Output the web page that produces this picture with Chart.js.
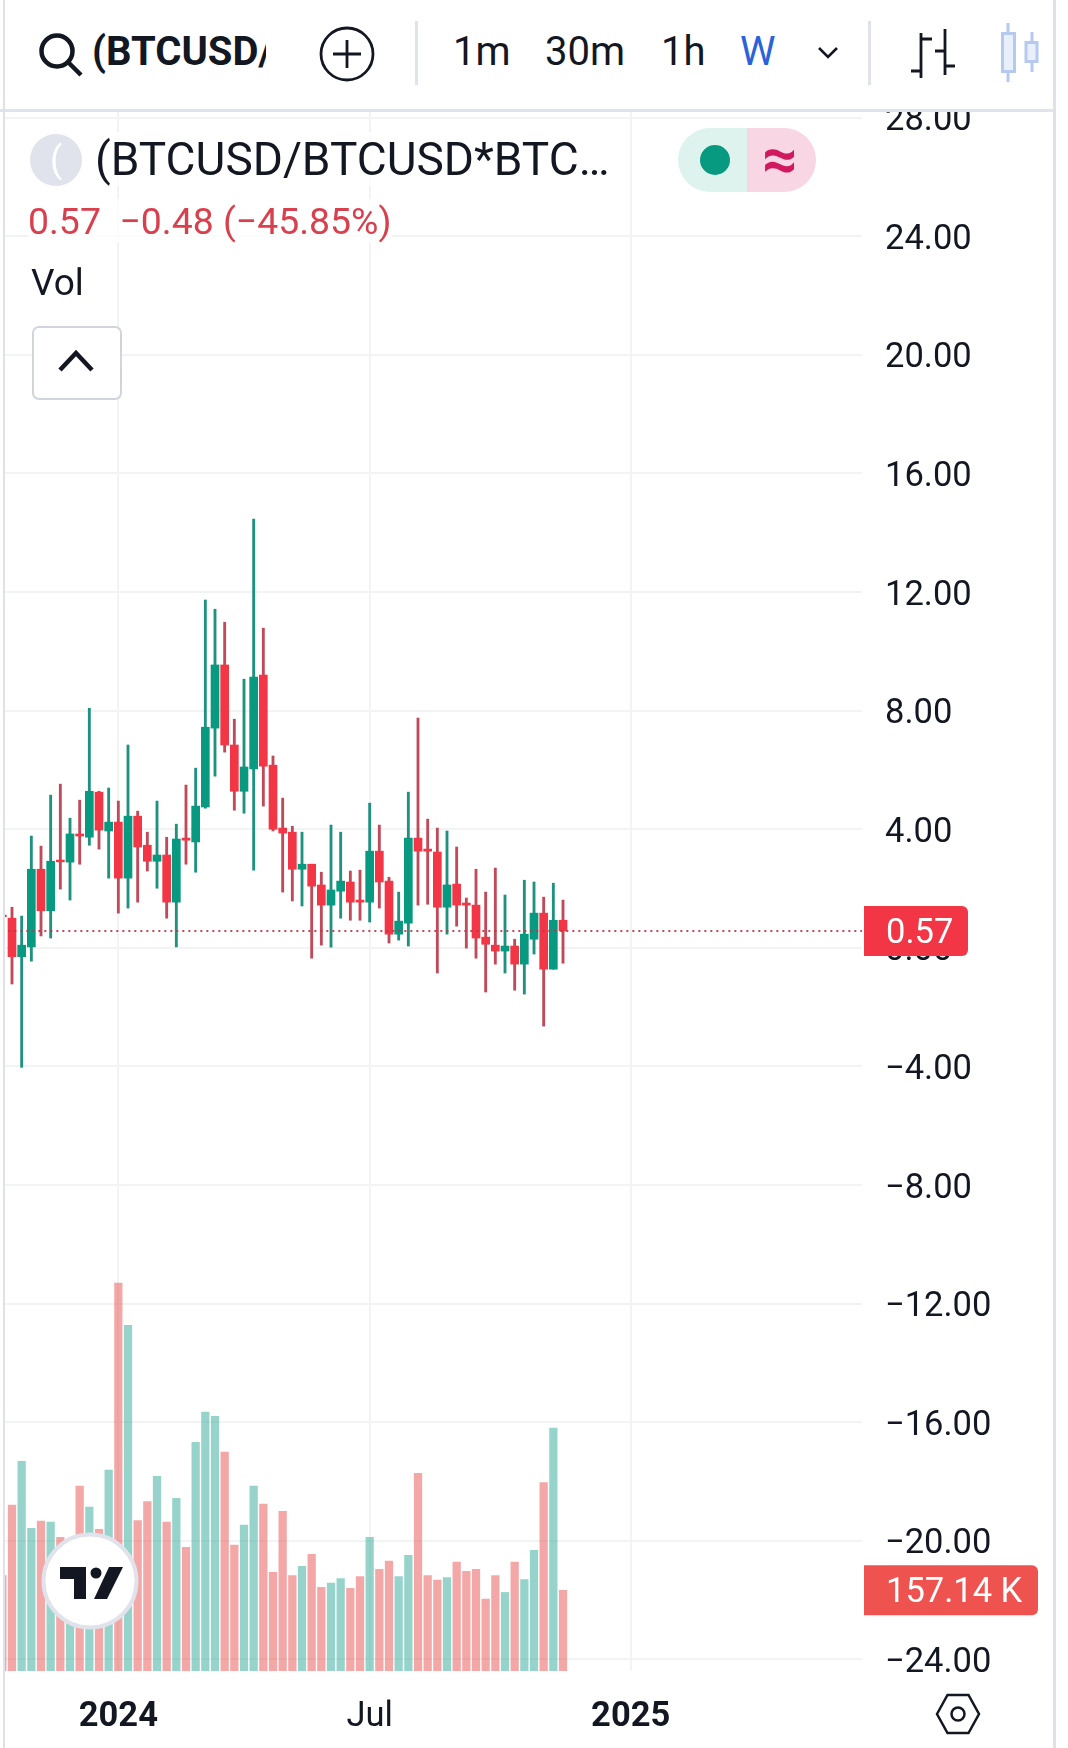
<!DOCTYPE html>
<html lang="en">
<head>
<meta charset="UTF-8">
<title>(BTCUSD/BTCUSD*BTC...</title>
<script src="https://cdn.jsdelivr.net/npm/chart.js"></script>
<style>
    html, body { margin: 0; padding: 0; background: #fff; }
    body { width: 1068px; height: 1748px; position: relative; overflow: hidden; font-family: Roboto, sans-serif; color: #131722; }
    canvas { position: absolute; left: 0; top: 0; }
    .abs { position: absolute; white-space: nowrap; }
    #header { position: absolute; left: 0; top: 0; width: 1053px; height: 109px; background: #fff; border-bottom: 3px solid #e0e3eb; box-sizing: content-box; }
    .edge { position: absolute; top: 0; width: 2px; height: 1748px; background: #dfe1e6; }
    .sep { position: absolute; top: 21px; width: 3px; height: 64px; background: #e0e3eb; }
    .tf { top: 28px; font-size: 40px; line-height: 48px; }
</style>
</head>
<body>
<canvas id="chart" width="1068" height="1748" style="width:1068px;height:1748px"></canvas>

<!-- legend -->
<div class="abs" style="left:30px;top:134px;width:52px;height:52px;border-radius:50%;background:#e0e3eb"></div>
<div class="abs" style="left:50px;top:140px;font-size:36px;line-height:40px;color:#fff">(</div>
<div class="abs" id="title" style="left:95px;top:132px;width:514px;overflow:hidden;font-size:46px;line-height:54px;background:rgba(255,255,255,.7)">(BTCUSD/BTCUSD*BTC…</div>
<div class="abs" style="left:678px;top:128px;width:69px;height:64px;background:#dff3ee;border-radius:32px 0 0 32px"></div>
<div class="abs" style="left:747px;top:128px;width:69px;height:64px;background:#f8d6e3;border-radius:0 32px 32px 0"></div>
<div class="abs" style="left:700px;top:145px;width:30px;height:30px;border-radius:50%;background:#089981"></div>
<div class="abs" style="left:758px;top:130px;width:44px;text-align:center;font-size:62px;line-height:58px;font-weight:700;color:#d0195f">≈</div>
<div class="abs" id="change" style="left:28px;top:199px;font-size:37.4px;line-height:44px;color:#d9404e;background:rgba(255,255,255,.7)">0.57&nbsp;&nbsp;−0.48 (−45.85%)</div>
<div class="abs" style="left:31px;top:261px;font-size:37px;line-height:44px">Vol</div>
<div class="abs" style="left:32px;top:326px;width:86px;height:70px;border:2px solid #d1d4dc;border-radius:7px;background:#fff"></div>
<svg class="abs" style="left:56px;top:347px" width="40" height="28" viewBox="0 0 40 28"><path d="M4 23 L20 6 L36 23" fill="none" stroke="#131722" stroke-width="4.5"/></svg>

<!-- tradingview badge -->
<svg class="abs" style="left:41px;top:1532px" width="98" height="98" viewBox="0 0 98 98">
    <circle cx="49" cy="49" r="46.5" fill="#fff" stroke="#e0e3eb" stroke-width="4"/>
    <path d="M19 35 H45 V67 H33 V47 H19 Z M68 35 H82 L66 67 H53 Z" fill="#131722"/>
    <circle cx="55" cy="41" r="5.5" fill="#131722"/>
</svg>

<!-- settings hexagon -->
<svg class="abs" style="left:934px;top:1692px" width="48" height="44" viewBox="0 0 48 44">
    <path d="M3 22 L13.5 3 H34.5 L45 22 L34.5 41 H13.5 Z" fill="none" stroke="#131722" stroke-width="2.5"/>
    <circle cx="24" cy="22" r="6.5" fill="none" stroke="#131722" stroke-width="2.5"/>
</svg>

<!-- toolbar -->
<div id="header">
    <svg class="abs" style="left:37px;top:31px" width="48" height="48" viewBox="0 0 48 48">
        <circle cx="20" cy="20" r="15.5" fill="none" stroke="#131722" stroke-width="4.5"/>
        <path d="M31 31 L44 44" stroke="#131722" stroke-width="4.5"/>
    </svg>
    <div class="abs" style="left:92px;top:28px;width:174px;overflow:hidden;font-size:40px;line-height:48px;font-weight:700">(BTCUSD/BTCUSD</div>
    <svg class="abs" style="left:319px;top:26px" width="56" height="56" viewBox="0 0 56 56">
        <circle cx="28" cy="28" r="26" fill="none" stroke="#131722" stroke-width="2.8"/>
        <path d="M28 14 V42 M14 28 H42" stroke="#131722" stroke-width="2.8"/>
    </svg>
    <div class="sep" style="left:415px"></div>
    <div class="abs tf" style="left:453px">1m</div>
    <div class="abs tf" style="left:545px">30m</div>
    <div class="abs tf" style="left:661px">1h</div>
    <div class="abs tf" style="left:740px;color:#2962d9">W</div>
    <svg class="abs" style="left:817px;top:46px" width="22" height="14" viewBox="0 0 22 14"><path d="M2 2 L11 11 L20 2" fill="none" stroke="#131722" stroke-width="2.6"/></svg>
    <div class="sep" style="left:868px"></div>
    <svg class="abs" style="left:905px;top:25px" width="56" height="60" viewBox="905 25 56 60">
        <path d="M921 33 V78 M921 39 H932 M911 71 H921 M945 29 V75 M935 51 H945 M945 66 H955" fill="none" stroke="#131722" stroke-width="2.8"/>
    </svg>
    <svg class="abs" style="left:996px;top:20px" width="48" height="66" viewBox="996 20 48 66">
        <path d="M1008 23 V33 M1008 72 V82 M1032 32 V42 M1032 62 V72" stroke="#b6c9f0" stroke-width="3"/>
        <rect x="1002.5" y="33.5" width="12" height="38" fill="#eaf0fb" stroke="#b6c9f0" stroke-width="3"/>
        <rect x="1026" y="42.5" width="11" height="19" fill="#eaf0fb" stroke="#b6c9f0" stroke-width="3"/>
    </svg>
</div>
<div class="edge" style="left:3px"></div>
<div class="edge" style="left:1053px;width:3px"></div>

<script>
    // weekly candles (first one is cut by the left edge)
    const opens = [1.10, 1.00, -0.30, 0.03, 2.65, 1.25, 2.96, 2.89, 3.84, 3.73, 5.25, 3.94, 4.24, 2.35, 4.44, 3.46, 2.92, 3.13, 1.54, 3.70, 3.57, 4.75, 7.41, 9.54, 6.84, 5.28, 6.03, 9.20, 6.16, 4.04, 3.90, 2.65, 2.82, 2.12, 1.44, 1.91, 2.22, 1.61, 1.54, 3.26, 2.25, 0.46, 0.83, 3.70, 3.33, 3.23, 1.37, 2.15, 1.51, 1.44, 0.36, 0.09, -0.11, 0.06, -0.55, 0.29, 1.17, -0.72, 0.93];
    const closes = [1.05, -0.30, 0.09, 2.65, 1.25, 2.92, 2.90, 3.84, 3.77, 5.28, 3.97, 4.24, 2.35, 4.44, 3.40, 2.92, 3.13, 1.54, 3.67, 3.63, 4.78, 7.44, 9.54, 6.84, 5.28, 6.10, 9.13, 6.13, 4.00, 3.87, 2.65, 2.82, 2.08, 1.44, 1.95, 2.25, 1.54, 1.54, 3.26, 2.22, 0.46, 0.90, 3.70, 3.26, 3.26, 1.37, 2.12, 1.44, 1.44, 0.33, 0.12, -0.11, 0.06, -0.55, 0.46, 1.17, -0.72, 0.93, 0.57];
    const highs = [1.20, 1.37, 1.07, 3.77, 3.43, 5.15, 5.52, 4.37, 4.98, 8.08, 5.28, 5.39, 4.95, 6.84, 4.61, 3.90, 4.95, 3.73, 4.17, 5.49, 6.06, 11.73, 11.42, 10.98, 7.71, 9.06, 14.46, 10.78, 6.47, 5.05, 4.10, 3.90, 2.82, 2.55, 4.14, 3.90, 2.59, 2.62, 4.88, 4.14, 2.38, 1.88, 5.25, 7.75, 4.34, 4.04, 3.94, 3.40, 1.68, 2.65, 1.88, 2.69, 1.78, 0.29, 2.28, 2.22, 1.71, 2.18, 1.61];
    const lows = [0.90, -1.22, -4.03, -0.45, 0.40, 0.33, 1.98, 1.61, 2.82, 3.46, 3.33, 2.35, 1.17, 1.34, 1.54, 2.59, 2.01, 1.00, 0.03, 2.82, 2.55, 4.71, 5.79, 6.60, 4.64, 4.54, 2.62, 4.78, 3.94, 1.88, 1.58, 1.41, -0.35, 0.09, 0.02, 1.00, 0.93, 0.93, 0.87, 1.34, 0.16, 0.26, 0.06, 1.44, 1.47, -0.85, 0.46, 0.73, -0.01, -0.35, -1.49, -0.55, -0.85, -1.43, -1.56, -0.21, -2.64, -0.72, -0.52];
    // volume in K
    const volumes = [186, 323, 408, 278, 292, 290, 260, 224, 360, 319, 276, 391, 755, 673, 293, 330, 379, 290, 336, 241, 445, 504, 496, 426, 245, 284, 360, 325, 192, 311, 186, 204, 227, 163, 171, 180, 161, 184, 260, 198, 214, 184, 225, 385, 186, 177, 182, 212, 194, 198, 140, 186, 153, 212, 178, 235, 367, 473, 157.14];

    const priceTicks = [28, 24, 20, 16, 12, 8, 4, 0, -4, -8, -12, -16, -20, -24];
    const timeTickWeeks = [12, 38, 65];
    const timeTickLabels = ['2024', 'Jul', '2025'];
    const boldTimeTicks = ['2024', '2025'];

    const weeks = opens.map((_, i) => i);
    const isUp = weeks.map(i => closes[i] >= opens[i]);
    const lastPrice = closes[closes.length - 1];
    const lastVolume = volumes[volumes.length - 1];

    const UP = '#089981', DOWN = '#f23645';
    const UP_WICK = '#1f917f', DOWN_WICK = '#c04a59';
    const UP_VOL = 'rgba(46,170,152,.5)', DOWN_VOL = 'rgba(232,82,80,.5)';

    // the two last-value tags on the right axis
    const tagsPlugin = {
        id: 'tags',
        afterDraw(chart) {
            const ctx = chart.ctx;
            const tag = (y, text, right, color) => {
                ctx.fillStyle = color;
                ctx.beginPath();
                ctx.roundRect(864, y - 25, right - 864, 50, [0, 6, 6, 0]);
                ctx.fill();
                ctx.fillStyle = '#fff';
                ctx.font = '34.5px Roboto';
                ctx.textAlign = 'left';
                ctx.textBaseline = 'middle';
                ctx.fillText(text, 886, y + 3.5);
            };
            tag(chart.scales.y.getPixelForValue(lastPrice), lastPrice.toFixed(2), 968, DOWN);
            tag(chart.scales.vol.getPixelForValue(lastVolume), lastVolume.toFixed(2) + ' K', 1038, '#ef5350');
        }
    };

    new Chart(document.getElementById('chart').getContext('2d'), {
        type: 'bar',
        data: {
            datasets: [
                {
                    type: 'line',
                    data: [{ x: 0, y: lastPrice }, { x: 90, y: lastPrice }],
                    borderColor: 'rgba(200,50,70,.9)',
                    borderWidth: 2,
                    borderDash: [2, 4],
                    pointRadius: 0,
                    order: 0
                },
                {
                    data: weeks.map(i => ({ x: i, y: [Math.min(opens[i], closes[i]), Math.max(opens[i], closes[i])] })),
                    backgroundColor: weeks.map(i => isUp[i] ? UP : DOWN),
                    barThickness: 8,
                    grouped: false,
                    order: 1
                },
                {
                    data: weeks.map(i => ({ x: i, y: [lows[i], highs[i]] })),
                    backgroundColor: weeks.map(i => isUp[i] ? UP_WICK : DOWN_WICK),
                    barThickness: 2.2,
                    grouped: false,
                    order: 2
                },
                {
                    data: weeks.map(i => ({ x: i, y: volumes[i] })),
                    yAxisID: 'vol',
                    backgroundColor: weeks.map(i => isUp[i] ? UP_VOL : DOWN_VOL),
                    barThickness: 7.6,
                    grouped: false,
                    order: 3
                }
            ]
        },
        options: {
            responsive: false,
            devicePixelRatio: 1,
            animation: false,
            layout: { padding: { top: 109, left: 5, right: 0, bottom: 0 } },
            plugins: { legend: { display: false }, tooltip: { enabled: false } },
            scales: {
                x: {
                    type: 'linear',
                    offset: false,
                    min: 0.276,
                    max: 88.93,
                    afterFit(scale) { scale.height = 77; },
                    afterBuildTicks(scale) { scale.ticks = timeTickWeeks.map(v => ({ value: v })); },
                    border: { display: false },
                    grid: { color: '#f2f3f4', lineWidth: 2, drawTicks: false, offset: false },
                    ticks: {
                        autoSkip: false,
                        maxRotation: 0,
                        padding: 26,
                        color: '#131722',
                        callback: v => timeTickLabels[timeTickWeeks.indexOf(v)],
                        font: c => ({
                            family: 'Roboto',
                            size: 34.5,
                            weight: c.tick && boldTimeTicks.includes(timeTickLabels[timeTickWeeks.indexOf(c.tick.value)]) ? 'bold' : 'normal'
                        })
                    }
                },
                y: {
                    position: 'right',
                    min: -24.39,
                    max: 28.29,
                    afterFit(scale) { scale.width = 206; },
                    afterBuildTicks(scale) { scale.ticks = priceTicks.map(v => ({ value: v })); },
                    border: { display: false },
                    grid: { color: '#f2f3f4', lineWidth: 2, drawTicks: false },
                    ticks: {
                        autoSkip: false,
                        padding: 23,
                        labelOffset: 4,
                        color: '#131722',
                        font: { family: 'Roboto', size: 34.5 },
                        callback: v => (v < 0 ? '\u2212' : '') + Math.abs(v).toFixed(2)
                    }
                },
                vol: {
                    display: false,
                    min: 0,
                    max: 3041
                }
            }
        },
        plugins: [tagsPlugin]
    });
</script>
</body>
</html>
